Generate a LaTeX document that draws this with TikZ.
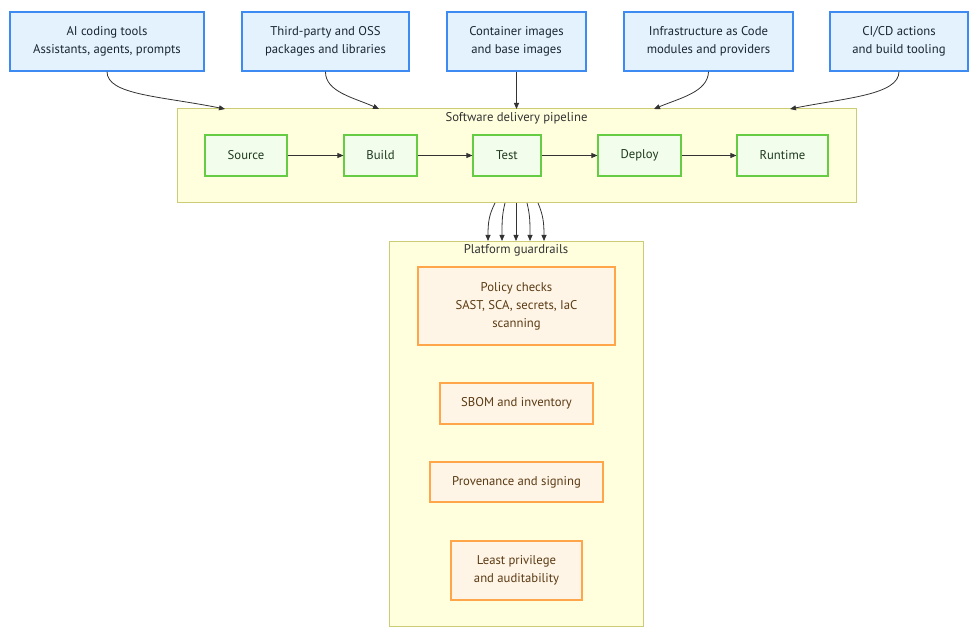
\documentclass[tikz,border=0pt]{standalone}
\usepackage{fontspec}
\setmainfont{PT Sans}
\usetikzlibrary{arrows.meta}
\definecolor{bfill}{HTML}{E3F2FD}
\definecolor{bdraw}{HTML}{3D8BF2}
\definecolor{btext}{HTML}{1A2633}
\definecolor{cfill}{HTML}{FFFFDE}
\definecolor{cdraw}{HTML}{CCCC77}
\definecolor{gfill}{HTML}{F2FDEC}
\definecolor{gdraw}{HTML}{66CC44}
\definecolor{gtext}{HTML}{1E3A1E}
\definecolor{ofill}{HTML}{FFF5E6}
\definecolor{odraw}{HTML}{FFA54A}
\definecolor{otext}{HTML}{5A3A14}
\definecolor{edge}{HTML}{333333}
\begin{document}
\begin{tikzpicture}[x=1pt,y=-1pt,
  every node/.style={font=\fontsize{12.7}{18}\selectfont, align=center, inner sep=0pt},
  srcbox/.style={draw=bdraw, fill=bfill, text=btext, line width=1.2pt},
  stagebox/.style={draw=gdraw, fill=gfill, text=gtext, line width=1.2pt},
  guardbox/.style={draw=odraw, fill=ofill, text=otext, line width=1.2pt},
  clusterbox/.style={draw=cdraw, fill=cfill, line width=1pt},
  flow/.style={draw=edge, line width=0.8pt, -{Triangle[length=6pt,width=5pt]}},
  title/.style={text=edge}]
\useasboundingbox (0,0) rectangle (977,639);
% clusters
\node[clusterbox, minimum width=679pt, minimum height=94pt] (pipe) at (516.5,156) {};
\node[title] (pipet) at (516.5,118) {Software delivery pipeline};
\node[clusterbox, minimum width=254pt, minimum height=385pt] (guard) at (516,433.5) {};
\node[title] (guardt) at (516,250) {Platform guardrails};
% source boxes
\node[srcbox, minimum width=194pt, minimum height=59pt] (ai) at (107,41.5) {AI coding tools\\Assistants, agents, prompts};
\node[srcbox, minimum width=167pt, minimum height=59pt] (oss) at (325.5,41.5) {Third-party and OSS\\packages and libraries};
\node[srcbox, minimum width=139pt, minimum height=59pt] (cont) at (516.5,41.5) {Container images\\and base images};
\node[srcbox, minimum width=169pt, minimum height=59pt] (iac) at (708.5,41.5) {Infrastructure as Code\\modules and providers};
\node[srcbox, minimum width=138pt, minimum height=59pt] (cicd) at (899,41.5) {CI/CD actions\\and build tooling};
% stages
\node[stagebox, minimum width=82pt, minimum height=41pt] (source) at (246,155.5) {Source};
\node[stagebox, minimum width=73pt, minimum height=41pt] (build) at (380.5,155.5) {Build};
\node[stagebox, minimum width=68pt, minimum height=41pt] (test) at (507,155.5) {Test};
\node[stagebox, minimum width=83pt, minimum height=41pt] (deploy) at (639.5,155.5) {Deploy};
\node[stagebox, minimum width=91pt, minimum height=41pt] (runtime) at (782.5,155.5) {Runtime};
% guardrails
\node[guardbox, minimum width=197pt, minimum height=78pt] (policy) at (516.5,306) {Policy checks\\SAST, SCA, secrets, IaC\\scanning};
\node[guardbox, minimum width=153pt, minimum height=41pt] (sbom) at (516.5,403.5) {SBOM and inventory};
\node[guardbox, minimum width=173pt, minimum height=40pt] (prov) at (516.5,482) {Provenance and signing};
\node[guardbox, minimum width=131pt, minimum height=59pt] (least) at (516.5,570.5) {Least privilege\\and auditability};
% stage flow
\draw[flow] (source) -- (build);
\draw[flow] (build) -- (test);
\draw[flow] (test) -- (deploy);
\draw[flow] (deploy) -- (runtime);
% inputs into pipeline
\coordinate (p1) at (225,109);
\coordinate (p2) at (379,109);
\coordinate (p3) at (516.5,109);
\coordinate (p4) at (654,109);
\coordinate (p5) at (790,109);
\draw[flow] (ai.south) .. controls (107,95) and (160,96) .. (p1);
\draw[flow] (oss.south) .. controls (325,92) and (355,98) .. (p2);
\draw[flow] (cont.south) -- (p3);
\draw[flow] (iac.south) .. controls (708,92) and (680,98) .. (p4);
\draw[flow] (cicd.south) .. controls (899,95) and (845,98) .. (p5);
% pipeline into guardrails
\coordinate (q1s) at (495,203); \coordinate (q1e) at (488,241);
\coordinate (q2s) at (505,203); \coordinate (q2e) at (502,241);
\coordinate (q3s) at (516,203); \coordinate (q3e) at (516,241);
\coordinate (q4s) at (527,203); \coordinate (q4e) at (530,241);
\coordinate (q5s) at (538,203); \coordinate (q5e) at (544,241);
\draw[flow] (q1s) .. controls (489,215) and (488,222) .. (q1e);
\draw[flow] (q2s) .. controls (502,215) and (502,222) .. (q2e);
\draw[flow] (q3s) -- (q3e);
\draw[flow] (q4s) .. controls (530,215) and (530,222) .. (q4e);
\draw[flow] (q5s) .. controls (543,215) and (544,222) .. (q5e);
\end{tikzpicture}
\end{document}
